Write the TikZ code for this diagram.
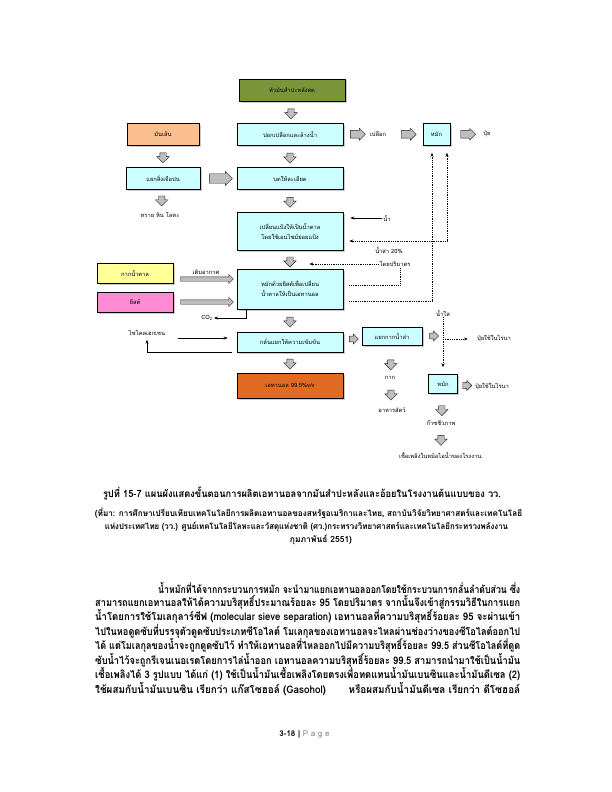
\documentclass[tikz,border=0pt]{standalone}
\usepackage{fontspec}
\setmainfont[Script=Thai]{Loma}
\usepackage{graphicx}
\usepackage{xcolor}
\usetikzlibrary{shapes.arrows, shadows, arrows.meta, calc, positioning}

\definecolor{boxcyan}{RGB}{204,255,255}
\definecolor{rootgreen}{RGB}{122,148,58}
\definecolor{chipsorange}{RGB}{251,192,143}
\definecolor{molyellow}{RGB}{255,255,153}
\definecolor{yeastpink}{RGB}{255,140,210}
\definecolor{ethorange}{RGB}{226,107,35}
\definecolor{arrgray}{RGB}{190,190,190}

\newcommand{\fitto}[2]{\resizebox{#1}{\height}{#2}}

\tikzset{
  box/.style={draw=black, line width=0.5bp, fill=boxcyan, minimum width=106bp, minimum height=22bp,
    align=center, inner sep=1bp, font=\fontsize{5.8}{7}\selectfont,
    drop shadow={shadow xshift=1.5bp, shadow yshift=-1.5bp, fill=gray!80}},
  lbl/.style={inner sep=1bp, font=\fontsize{5.8}{7}\selectfont},
  blockdown/.style={single arrow, draw=gray!25!black, fill=arrgray, line width=0.4bp,
    shape border rotate=270, minimum height=10bp, minimum width=12bp, inner sep=3bp,
    single arrow head extend=3bp},
  blockright/.style={single arrow, draw=gray!25!black, fill=arrgray, line width=0.4bp,
    minimum height=15bp, minimum width=12bp, inner sep=3.5bp, single arrow head extend=2bp},
  longarr/.style={single arrow, draw=gray!25!black, fill=arrgray, line width=0.4bp,
    minimum height=53bp, minimum width=9bp, inner sep=2bp, single arrow head extend=2.5bp, anchor=west},
  flow/.style={-{Stealth[length=4bp,width=3bp]}, line width=0.6bp},
  recyc/.style={densely dotted, line width=0.8bp},
  recycarr/.style={recyc, -{Stealth[length=4bp,width=3bp]}},
  bodytext/.style={anchor=west, inner sep=0pt, font=\bfseries\fontsize{10.5}{12}\selectfont},
  captext/.style={inner sep=0pt, font=\bfseries\fontsize{8.5}{10}\selectfont}
}

\begin{document}
\begin{tikzpicture}[x=1bp, y=-1bp]
\useasboundingbox (0,0) rectangle (612,792);
\fill[white] (0,0) rectangle (612,792);

% main column
\node[box, fill=rootgreen] (roots) at (292,90) {หัวมันสำปะหลังสด};
\node[box] (peel) at (290,134.5) {ปอกเปลือกและล้างน้ำ};
\node[box] (grind) at (290,178.5) {บดให้ละเอียด};
\node[box, minimum height=38bp] (enzyme) at (290,231) {เปลี่ยนแป้งให้เป็นน้ำตาล\\[3bp]โดยใช้เอนไซม์ย่อยแป้ง};
\node[box, minimum height=40bp] (ferment) at (290,289) {หมักด้วยยีสต์เพื่อเปลี่ยน\\[3bp]น้ำตาลให้เป็นเอทานอล};
\node[box, minimum height=20bp] (distill) at (290,342) {กลั่นแยกให้ความเข้มข้น};
\node[box, fill=ethorange, minimum height=25bp] (ethanol) at (290,385.5) {เอทานอล 99.5\%v/v};

% left column
\node[box, fill=chipsorange, minimum width=72bp] (chips) at (163,134) {มันเส้น};
\node[box, minimum width=74bp] (sieve) at (163,178.5) {แยกสิ่งเจือปน};
\node[lbl] (sand) at (160,215) {ทราย หิน โลหะ};
\node[box, fill=molyellow, minimum width=76bp, minimum height=20bp] (molasses) at (135,273) {กากน้ำตาล};
\node[box, fill=yeastpink, minimum width=76bp, minimum height=20bp] (yeast) at (135,302) {ยีสต์};
\node[lbl] (cyclo) at (147,333) {ไซโคลเฮกเซน};
\node[lbl] (co2) at (207,318) {CO\textsubscript{2}};

% right side
\node[lbl] (shell) at (378,134) {เปลือก};
\node[box, minimum width=27bp] (compostA) at (436.5,134.5) {หมัก};
\node[lbl] (fertA) at (487,134) {ปุ๋ย};
\node[lbl] (water) at (387,218) {น้ำ};
\node[lbl] (stil20) at (389,251) {น้ำส่า 20\%};
\node[lbl] (byvol) at (395,264) {โดยปริมาตร};
\node[lbl] (clear) at (443,313) {น้ำใส};
\node[box, minimum width=60bp, minimum height=18bp] (stillage) at (392,336) {แยกกากน้ำส่า};
\node[lbl] (fertB) at (494,339) {ปุ๋ยใช้ในไร่นา};
\node[lbl] (residue) at (390,378) {กาก};
\node[lbl] (feed) at (392,410) {อาหารสัตว์};
\node[box, minimum width=29bp, minimum height=19bp] (compostB) at (443,384) {หมัก};
\node[lbl] (fertC) at (492,387) {ปุ๋ยใช้ในไร่นา};
\node[lbl] (biogas) at (441,423) {ก๊าซชีวภาพ};
\node[lbl] (fuel) at (441,455) {เชื้อเพลิงในหม้อไอน้ำของโรงงาน.};

% block arrows
\node[blockdown] (dn1) at ($(roots.south)!0.5!(peel.north)$) {};
\node[blockdown] (dn2) at ($(chips.south)!0.5!(sieve.north)$) {};
\node[blockdown] (dn3) at ($(peel.south)!0.5!(grind.north)$) {};
\node[blockdown] (dn4) at ($(sieve.south)!0.45!(sand.north)$) {};
\node[blockdown] (dn5) at ($(grind.south)!0.5!(enzyme.north)$) {};
\node[blockdown] (dn6) at ($(enzyme.south)!0.55!(ferment.north)$) {};
\node[blockdown] (dn7) at ($(ferment.south)!0.5!(distill.north)$) {};
\node[blockdown] (dn8) at ($(distill.south)!0.5!(ethanol.north)$) {};
\node[blockdown] (dn9) at ($(stillage.south)!0.6!(residue.north)$) {};
\node[blockdown] (dn10) at ($(residue.south)!0.5!(feed.north)$) {};
\node[blockdown] (dn11) at ($(compostB.south)!0.6!(biogas.north)$) {};
\node[blockdown] (dn12) at ($(biogas.south)!0.5!(fuel.north)$) {};

\node[blockright] (rt1) at ($(peel.east)!0.5!(shell.west)$) {};
\node[blockright] (rt2) at ($(shell.east)!0.55!(compostA.west)$) {};
\node[blockright] (rt3) at ($(compostA.east)!0.5!(fertA.west)$) {};
\node[blockright, minimum height=23bp, minimum width=14bp, inner sep=4bp] (rt4) at ($(sieve.east)!0.5!(grind.west)$) {};
\node[blockright, minimum height=9bp, minimum width=10bp, inner sep=2.5bp] (rt5) at ($(distill.east)!0.5!(stillage.west)$) {};
\node[blockright, minimum height=9bp, minimum width=10bp, inner sep=2.5bp] (rt6) at ($(stillage.east)!0.5!(clear.south |- stillage.east)$) {};
\node[blockright, minimum height=9bp, minimum width=10bp, inner sep=2.5bp] (rt7) at ($(compostB.east)!0.5!(fertC.west)$) {};

\node[longarr] (molArr) at ([xshift=7bp, yshift=-6bp]molasses.east) {};
\node[longarr] (yeastArr) at ([xshift=7bp]yeast.east) {};
\node[lbl, above=1bp of molArr] (air) {เติมอากาศ};

% thin connectors
\draw[flow, shorten >=7bp] (water.west) -- (enzyme.east |- water.west);
\draw[flow] ([xshift=10bp]ferment.south west) |- (co2.east);
\coordinate (cyIn) at (178,338);
\draw[flow, shorten >=9bp] (cyIn) -- (distill.west |- cyIn);
\draw[flow, shorten <=5bp] (distill.south west) -| ([yshift=-3bp]cyclo.south);

% dotted return lines
\coordinate (jA) at (432,301);
\coordinate (jB) at (447,241);
\coordinate (jC) at (400,285);
\draw[recycarr, shorten <=6bp, shorten >=7bp] (ferment.east |- jA) -- (jA) -- (jA |- compostA.south);
\draw[recyc, {Stealth[length=4bp,width=3bp]}-{Stealth[length=4bp,width=3bp]}, shorten <=6bp, shorten >=7bp] (enzyme.east |- jB) -- (jB) -- (jB |- compostA.south);
\draw[recyc, shorten <=6bp] (ferment.east |- jC) -- (jC) -- (jC |- byvol.south);
\draw[recycarr, shorten >=16bp] (byvol.west) -- (dn6.east |- byvol.west);
\draw[recycarr, shorten >=7bp] (clear.south) -- (clear.south |- compostB.north);
\draw[recycarr, shorten >=8bp] (clear.south |- fertB) -- (fertB.west);

% caption
\node[captext, font=\bfseries\fontsize{10}{12}\selectfont] (cap1) at (302,493) {\fitto{398bp}{รูปที่ 15-7 แผนผังแสดงขั้นตอนการผลิตเอทานอลจากมันสำปะหลังและอ้อยในโรงงานต้นแบบของ วว.}};
\node[captext] (cap2) at (308.5,513) {\fitto{427bp}{(ที่มา: การศึกษาเปรียบเทียบเทคโนโลยีการผลิตเอทานอลของสหรัฐอเมริกาและไทย, สถาบันวิจัยวิทยาศาสตร์และเทคโนโลยี}};
\node[captext] (cap3) at (306.5,527) {\fitto{403bp}{แห่งประเทศไทย (วว.) ศูนย์เทคโนโลยีโลหะและวัสดุแห่งชาติ (ศว.)กระทรวงวิทยาศาสตร์และเทคโนโลยีกระทรวงพลังงาน}};
\node[captext] (cap4) at (321,540) {กุมภาพันธ์ 2551)};

% body text
\node[bodytext] (b1) at (158,588) {\fitto{362bp}{น้ำหมักที่ได้จากกระบวนการหมัก จะนำมาแยกเอทานอลออกโดยใช้กระบวนการกลั่นลำดับส่วน ซึ่ง}};
\node[bodytext] (b2) at (95,602.4) {\fitto{425bp}{สามารถแยกเอทานอลให้ได้ความบริสุทธิ์ประมาณร้อยละ 95 โดยปริมาตร จากนั้นจึงเข้าสู่กรรมวิธีในการแยก}};
\node[bodytext] (b3) at (95,616.8) {\fitto{425bp}{น้ำโดยการใช้โมเลกุลาร์ซีฟ (molecular sieve separation) เอทานอลที่ความบริสุทธิ์ร้อยละ 95 จะผ่านเข้า}};
\node[bodytext] (b4) at (95,631.2) {\fitto{425bp}{ไปในหอดูดซับที่บรรจุตัวดูดซับประเภทซีโอไลต์ โมเลกุลของเอทานอลจะไหลผ่านช่องว่างของซีโอไลต์ออกไป}};
\node[bodytext] (b5) at (95,645.6) {\fitto{425bp}{ได้ แต่โมเลกุลของน้ำจะถูกดูดซับไว้ ทำให้เอทานอลที่ไหลออกไปมีความบริสุทธิ์ร้อยละ 99.5 ส่วนซีโอไลต์ที่ดูด}};
\node[bodytext] (b6) at (95,660) {\fitto{425bp}{ซับน้ำไว้จะถูกรีเจนเนอเรตโดยการไล่น้ำออก เอทานอลความบริสุทธิ์ร้อยละ 99.5 สามารถนำมาใช้เป็นน้ำมัน}};
\node[bodytext] (b7) at (95,674.4) {\fitto{425bp}{เชื้อเพลิงได้ 3 รูปแบบ ได้แก่ (1) ใช้เป็นน้ำมันเชื้อเพลิงโดยตรงเพื่อทดแทนน้ำมันเบนซินและน้ำมันดีเซล (2)}};
\node[bodytext] (b8) at (95,688.8) {\fitto{425bp}{ใช้ผสมกับน้ำมันเบนซิน เรียกว่า แก๊สโซฮอล์ (Gasohol)\hspace{24bp}หรือผสมกับน้ำมันดีเซล เรียกว่า ดีโซฮอล์}};

% footer
\node[inner sep=0pt, font=\fontsize{8}{10}\selectfont] (page) at (304.5,734) {\textbf{3-18 |} {\color{gray}P a g e}};
\end{tikzpicture}
\end{document}
